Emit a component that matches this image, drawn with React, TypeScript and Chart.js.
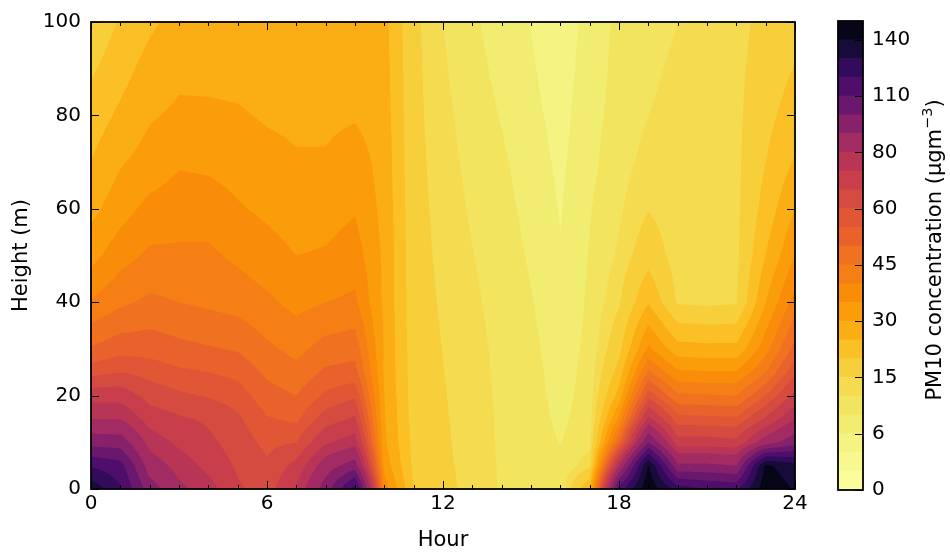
import React, { useEffect, useRef } from 'react';
import { Chart, registerables } from 'chart.js';

Chart.register(...registerables);
Chart.defaults.font.family = "'DejaVu Sans', sans-serif";
Chart.defaults.color = '#000';

// grid of the model output: hour of day x height above ground
const HOURS = [0, 1, 2, 3, 4, 5, 6, 7, 8, 9, 10, 11, 12, 13, 14, 15, 16, 17, 18, 19, 20, 21, 22, 23, 24];
const HEIGHTS = [0, 5, 10, 15, 20, 25, 30, 40, 50, 60, 70, 80, 90, 100];

// PM10 (ugm-3), one row per height, one value per hour
const pm10At0m = [137, 121, 95, 82, 76, 67, 63, 74, 95, 125, 38, 20, 16.5, 13.5, 11.8, 10.5, 9.8, 25, 115, 148, 125, 120, 118, 147, 139];
const pm10At5m = [119, 114, 85, 77, 71, 65, 61, 68, 85, 95, 33, 19, 16, 13.4, 11.7, 10.5, 9.5, 14, 80, 141, 92, 92, 90, 142, 134];
const pm10At10m = [96, 95, 77, 71.5, 67.5, 63, 58.5, 60, 72, 77, 31, 18.4, 15.7, 13.3, 11.6, 10.4, 8.9, 11, 50, 100, 69, 69, 68, 85, 96];
const pm10At15m = [80, 80, 70, 67, 65, 61, 55.5, 54, 63, 67, 30.5, 18, 15.5, 13.2, 11.6, 10.3, 8.4, 10.5, 36, 75, 57, 56.5, 56, 67, 80];
const pm10At20m = [70, 70, 63.5, 61, 59.5, 57.5, 52, 50, 56, 59, 30, 17.7, 15.3, 13.1, 11.5, 10.2, 8, 10.2, 27, 58, 46, 45.5, 45, 55, 68];
const pm10At25m = [58, 60, 58, 56, 55, 53.5, 49, 46.5, 51, 52, 29.5, 17.5, 15.1, 13, 11.4, 10, 7.7, 10, 22, 46, 36, 35.5, 35.5, 45, 59];
const pm10At30m = [50.6, 53, 53, 51.5, 50.5, 49.5, 46, 43.5, 47, 48, 29.5, 17.3, 14.9, 12.9, 11.3, 9.8, 7.4, 9.8, 18.5, 36, 27, 26.5, 26.5, 38, 52];
const pm10At40m = [40.5, 44, 46, 45, 44, 43, 41, 38.5, 40, 41, 29, 17, 14.5, 12.5, 11, 9.2, 6.8, 9.5, 14.5, 24.5, 14.5, 14, 14.5, 30, 42];
const pm10At50m = [33.2, 38, 41, 41, 41, 39, 37, 35, 35.5, 37.5, 29, 16.8, 14, 12.1, 10.6, 8.6, 6.2, 9.2, 12.5, 18, 13, 13.5, 14, 25, 35];
const pm10At60m = [28.5, 33, 36.5, 37.5, 37.5, 35.5, 34, 32.5, 33, 34.5, 28.5, 16.6, 13.6, 11.6, 10.1, 8, 5.8, 8.8, 11.5, 14.8, 12.8, 13.5, 14, 22, 30];
const pm10At70m = [25.1, 29.5, 32, 34.5, 34, 33, 31.5, 30.5, 30.5, 32.5, 28, 16.4, 13.2, 11.1, 9.5, 7.4, 5.4, 8.2, 10.8, 13, 12.5, 13.5, 14, 20, 25.5];
const pm10At80m = [22.2, 26, 29.5, 30.8, 31, 30.5, 29.5, 29, 29, 29.5, 27.5, 16.2, 12.8, 10.6, 8.8, 6.8, 5, 7.8, 10.3, 12, 12.3, 13.5, 14, 18.5, 22.5];
const pm10At90m = [19.2, 23, 27, 29, 28.5, 28.5, 28, 27.5, 27.5, 28, 27, 16.1, 12.4, 10.1, 8.1, 6.3, 4.6, 7.4, 10, 11.8, 12.2, 13.5, 14, 17, 20.3];
const pm10At100m = [16.3, 20.5, 24, 27, 27, 27, 27, 26.5, 26.5, 27, 26.5, 16, 12, 9.6, 7.5, 5.9, 4.3, 7, 9.8, 11.5, 12, 13.5, 14, 16, 18];

// contour levels and labelled ticks
const LEVELS = [0, 2, 4, 6, 9, 12, 15, 20, 25, 30, 35, 40, 45, 50, 55, 60, 66, 73, 80, 90, 100, 110, 120, 130, 140, 150];
const CBAR_TICKS = [0, 6, 15, 30, 45, 60, 80, 110, 140];
const X_TICKS = [0, 6, 12, 18, 24];
const Y_TICKS = [0, 20, 40, 60, 80, 100];

const GRID = [
  pm10At0m, pm10At5m, pm10At10m, pm10At15m, pm10At20m, pm10At25m, pm10At30m,
  pm10At40m, pm10At50m, pm10At60m, pm10At70m, pm10At80m, pm10At90m, pm10At100m,
];

// inferno colormap stops
const INFERNO = [
  '#000004', '#0a0722', '#160b39', '#2b0b57', '#420a68', '#57106e', '#6a176e', '#7f1e6c',
  '#932667', '#a82e5f', '#bc3754', '#cc4248', '#dd513a', '#e9622b', '#f37819', '#f98d0a',
  '#fca50a', '#fac026', '#f6d746', '#f1ed71', '#fcffa4',
];

const hexToRgb = (h: string) => [parseInt(h.slice(1, 3), 16), parseInt(h.slice(3, 5), 16), parseInt(h.slice(5, 7), 16)];
const INFERNO_RGB = INFERNO.map(hexToRgb);

const inferno = (t: number) => {
  const s = Math.max(0, Math.min(1, t)) * (INFERNO_RGB.length - 1);
  const i = Math.min(INFERNO_RGB.length - 2, Math.floor(s));
  const f = s - i;
  return INFERNO_RGB[i].map((c, k) => Math.round(c + (INFERNO_RGB[i + 1][k] - c) * f));
};

// reversed colormap, colour taken at the middle of each band
const vmax = LEVELS[LEVELS.length - 1];
const BAND_RGB = LEVELS.slice(0, -1).map((lo, i) => inferno(1 - (lo + LEVELS[i + 1]) / 2 / vmax));
const BAND_CSS = BAND_RGB.map(([r, g, b]) => `rgb(${r},${g},${b})`);

const locate = (arr: number[], v: number) => {
  let i = 0;
  while (i < arr.length - 2 && v > arr[i + 1]) i++;
  return i;
};

const fieldAt = (hour: number, hgt: number) => {
  const i = locate(HOURS, hour);
  const j = locate(HEIGHTS, hgt);
  const tx = Math.max(0, Math.min(1, (hour - HOURS[i]) / (HOURS[i + 1] - HOURS[i])));
  const ty = Math.max(0, Math.min(1, (hgt - HEIGHTS[j]) / (HEIGHTS[j + 1] - HEIGHTS[j])));
  const r0 = GRID[j];
  const r1 = GRID[j + 1];
  const a = r0[i] + (r0[i + 1] - r0[i]) * tx;
  const b = r1[i] + (r1[i + 1] - r1[i]) * tx;
  return a + (b - a) * ty;
};

const bandOf = (v: number) => {
  let k = 0;
  while (k < LEVELS.length - 2 && v >= LEVELS[k + 1]) k++;
  return k;
};

const TICK_FONT = { size: 20 };
const TITLE_FONT = { size: 21 };

// filled contours, sampled through the chart's own scales
const contourPlugin = {
  id: 'contourFill',
  beforeDatasetsDraw(chart: any) {
    const { ctx, chartArea: a, scales } = chart;
    const xs = scales.x;
    const ys = scales.y;
    const dpr = chart.currentDevicePixelRatio || 1;
    const w = Math.round((a.right - a.left) * dpr);
    const h = Math.round((a.bottom - a.top) * dpr);
    const off = document.createElement('canvas');
    off.width = w;
    off.height = h;
    const octx = off.getContext('2d');
    if (!octx) return;
    const img = octx.createImageData(w, h);
    const S = 2;
    const xv: number[] = [];
    for (let px = 0; px < w * S; px++) xv.push(xs.getValueForPixel(a.left + (px + 0.5) / (dpr * S)));
    for (let py = 0; py < h; py++) {
      const yv: number[] = [];
      for (let sy = 0; sy < S; sy++) yv.push(ys.getValueForPixel(a.top + (py * S + sy + 0.5) / (dpr * S)));
      for (let px = 0; px < w; px++) {
        let r = 0, g = 0, b = 0;
        for (let sy = 0; sy < S; sy++) {
          for (let sx = 0; sx < S; sx++) {
            const c = BAND_RGB[bandOf(fieldAt(xv[px * S + sx], yv[sy]))];
            r += c[0]; g += c[1]; b += c[2];
          }
        }
        const o = (py * w + px) * 4;
        img.data[o] = r / (S * S);
        img.data[o + 1] = g / (S * S);
        img.data[o + 2] = b / (S * S);
        img.data[o + 3] = 255;
      }
    }
    octx.putImageData(img, 0, 0);
    ctx.drawImage(off, a.left, a.top, a.right - a.left, a.bottom - a.top);
  },
};

// inward ticks on all four sides and the frame
const frameTicksPlugin = {
  id: 'frameTicks',
  afterDraw(chart: any) {
    const { ctx, chartArea: a, scales } = chart;
    ctx.save();
    ctx.strokeStyle = '#000';
    ctx.lineWidth = 1;
    ctx.beginPath();
    HOURS.forEach((hr) => {
      const len = X_TICKS.includes(hr) ? 8 : 4;
      const px = Math.round(scales.x.getPixelForValue(hr)) + 0.5;
      ctx.moveTo(px, a.bottom); ctx.lineTo(px, a.bottom - len);
      ctx.moveTo(px, a.top); ctx.lineTo(px, a.top + len);
    });
    Y_TICKS.forEach((hv) => {
      const py = Math.round(scales.y.getPixelForValue(hv)) + 0.5;
      ctx.moveTo(a.left, py); ctx.lineTo(a.left + 8, py);
      ctx.moveTo(a.right, py); ctx.lineTo(a.right - 8, py);
    });
    ctx.stroke();
    ctx.lineWidth = 1.8;
    ctx.strokeRect(a.left, a.top, a.right - a.left, a.bottom - a.top);
    ctx.restore();
  },
};

// colorbar frame, inner ticks and rotated label with superscript
const colorbarPlugin = {
  id: 'colorbarDecor',
  afterDraw(chart: any) {
    const { ctx, chartArea: a, scales } = chart;
    ctx.save();
    ctx.strokeStyle = '#000';
    ctx.lineWidth = 1;
    ctx.beginPath();
    CBAR_TICKS.forEach((lv) => {
      const py = Math.round(scales.y.getPixelForValue(LEVELS.indexOf(lv))) + 0.5;
      ctx.moveTo(a.right, py); ctx.lineTo(a.right - 8, py);
    });
    ctx.stroke();
    ctx.lineWidth = 1.8;
    ctx.strokeRect(a.left, a.top, a.right - a.left, a.bottom - a.top);

    const main = 'PM10 concentration (\u03bcgm';
    const sup = '\u22123';
    const close = ')';
    const big = '21px "DejaVu Sans", sans-serif';
    const small = '14.5px "DejaVu Sans", sans-serif';
    ctx.font = big;
    const wMain = ctx.measureText(main).width;
    const wClose = ctx.measureText(close).width;
    ctx.font = small;
    const wSup = ctx.measureText(sup).width;
    const total = wMain + wSup + wClose;
    ctx.translate(116, 250);
    ctx.rotate(-Math.PI / 2);
    ctx.fillStyle = '#000';
    ctx.textBaseline = 'middle';
    ctx.textAlign = 'left';
    let x0 = -total / 2;
    ctx.font = big;
    ctx.fillText(main, x0, 0);
    x0 += wMain;
    ctx.font = small;
    ctx.fillText(sup, x0, -8);
    x0 += wSup;
    ctx.font = big;
    ctx.fillText(close, x0, 0);
    ctx.restore();
  },
};

const HeightHourContour: React.FC = () => {
  const plotRef = useRef<HTMLCanvasElement>(null);
  const barRef = useRef<HTMLCanvasElement>(null);

  useEffect(() => {
    if (!plotRef.current || !barRef.current) return;

    const nodes = HEIGHTS.flatMap((hgt, j) => HOURS.map((hr, i) => ({ x: hr, y: hgt, v: GRID[j][i] })));

    const plot = new Chart(plotRef.current, {
      type: 'scatter',
      data: {
        datasets: [{ label: 'PM10', data: nodes, pointRadius: 0, pointHoverRadius: 0 }],
      },
      options: {
        animation: false,
        responsive: false,
        layout: { padding: { top: 19, right: 25, left: 0, bottom: 0 } },
        plugins: { legend: { display: false }, tooltip: { enabled: false } },
        scales: {
          x: {
            type: 'linear',
            min: 0,
            max: 24,
            afterBuildTicks: (s: any) => { s.ticks = X_TICKS.map((v) => ({ value: v })); },
            afterFit: (s: any) => { s.height = 64; },
            ticks: { font: TICK_FONT, color: '#000', padding: 3, maxRotation: 0 },
            grid: { display: false, drawTicks: false },
            border: { display: false },
            title: { display: true, text: 'Hour', font: TITLE_FONT, color: '#000', padding: { top: 0, bottom: 0 } },
          },
          y: {
            type: 'linear',
            min: 0,
            max: 100,
            afterBuildTicks: (s: any) => { s.ticks = Y_TICKS.map((v) => ({ value: v })); },
            afterFit: (s: any) => { s.width = 91; },
            ticks: { font: TICK_FONT, color: '#000', padding: 10 },
            grid: { display: false, drawTicks: false },
            border: { display: false },
            title: { display: true, text: 'Height (m)', font: TITLE_FONT, color: '#000', padding: { top: 9, bottom: 0 } },
          },
        },
      },
      plugins: [contourPlugin, frameTicksPlugin],
    } as any);

    const bar = new Chart(barRef.current, {
      type: 'bar',
      data: {
        labels: ['PM10'],
        datasets: BAND_CSS.map((c, i) => ({
          label: `${LEVELS[i]}-${LEVELS[i + 1]}`,
          data: [1],
          backgroundColor: c,
          borderWidth: 0,
          barPercentage: 1,
          categoryPercentage: 1,
        })),
      },
      options: {
        animation: false,
        responsive: false,
        layout: { padding: { top: 20, right: 0, left: 18, bottom: 63 } },
        plugins: { legend: { display: false }, tooltip: { enabled: false } },
        scales: {
          x: { stacked: true, display: false },
          y: {
            stacked: true,
            position: 'right',
            min: 0,
            max: LEVELS.length - 1,
            afterBuildTicks: (s: any) => { s.ticks = CBAR_TICKS.map((lv) => ({ value: LEVELS.indexOf(lv) })); },
            afterFit: (s: any) => { s.width = 87; },
            ticks: { font: TICK_FONT, color: '#000', padding: 9, callback: (v: any) => LEVELS[v] },
            grid: { display: false, drawTicks: false },
            border: { display: false },
          },
        },
      },
      plugins: [colorbarPlugin],
    } as any);

    return () => {
      plot.destroy();
      bar.destroy();
    };
  }, []);

  return (
    <div style={{ position: 'absolute', left: 0, top: 0, width: 950, height: 553, background: '#fff' }}>
      <canvas ref={plotRef} width={820} height={553} style={{ position: 'absolute', left: 0, top: 0, width: 820, height: 553 }} />
      <canvas ref={barRef} width={130} height={553} style={{ position: 'absolute', left: 820, top: 0, width: 130, height: 553 }} />
    </div>
  );
};

export default function App() {
  return <HeightHourContour />;
}
